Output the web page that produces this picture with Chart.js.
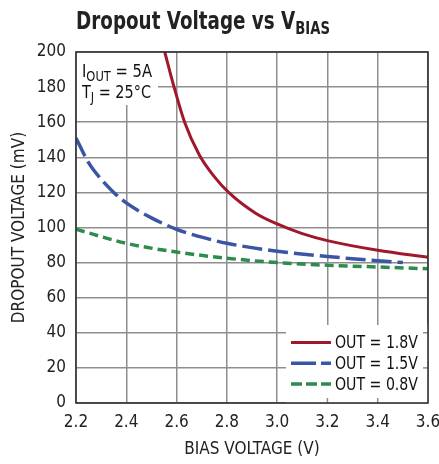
<!DOCTYPE html>
<html><head><meta charset="utf-8">
<script src="https://cdn.jsdelivr.net/npm/chart.js@4/dist/chart.umd.min.js"></script>
<style>html,body{margin:0;padding:0;background:#fff;}</style>
</head><body>
<canvas id="c" width="439" height="464"></canvas>
<script>
const FONT = "'DejaVu Sans Condensed','Liberation Sans Narrow',Roboto,sans-serif";

// ---- data ----
const xTickValues = [2.2, 2.4, 2.6, 2.8, 3.0, 3.2, 3.4, 3.6];
const yTickValues = [0, 20, 40, 60, 80, 100, 120, 140, 160, 180, 200];
const seriesLabels = ['OUT = 1.8V', 'OUT = 1.5V', 'OUT = 0.8V'];

const out18X = [2.553, 2.59, 2.632, 2.69, 2.75, 2.807, 2.916, 3.0, 3.1, 3.2, 3.4, 3.6];
const out18Y = [200, 180, 160, 141.5, 129, 120, 108, 102, 96.5, 92.5, 87, 83];

const out15X = [2.2, 2.25, 2.3, 2.35, 2.4, 2.5, 2.6, 2.7, 2.8, 3.0, 3.2, 3.4, 3.5];
const out15Y = [151, 137, 127.5, 120, 114, 105.5, 99, 94.5, 91, 86.5, 83.5, 81, 80];

const out08X = [2.2, 2.4, 2.6, 2.8, 3.0, 3.2, 3.4, 3.6];
const out08Y = [99, 91, 86, 82.5, 80, 78.5, 77.5, 76.5];

const pts = (xs, ys) => xs.map((x, i) => ({x, y: ys[i]}));

const COLORS = ['#a0182c', '#3a55a5', '#2e8b4e'];
const DASHES = [[], [20, 6], [9, 5]];
const LEGEND_DASHES = [[], [25, 5], [11, 4]];
const WIDTHS = [3, 3.5, 3.5];

// draw text with horizontal scale sx; returns advance width
function txt(ctx, s, x, y, font, sx) {
  ctx.save();
  ctx.font = font;
  const w = ctx.measureText(s).width * sx;
  ctx.translate(x, y);
  ctx.scale(sx, 1);
  ctx.fillText(s, 0, 0);
  ctx.restore();
  return w;
}
function runs(ctx, parts, x, y, targetW) {
  let nat = 0;
  parts.forEach(p => { ctx.font = p[1]; nat += ctx.measureText(p[0]).width; });
  const sx = targetW / nat;
  parts.forEach(p => { x += txt(ctx, p[0], x, y + p[2], p[1], sx); });
}

const overlay = {
  id: 'overlay',
  beforeDatasetsDraw(chart) {
    const {ctx, chartArea: a} = chart;
    ctx.save();
    ctx.fillStyle = '#fff';
    ctx.fillRect(a.left + 1, a.top + 1, 81, 52);
    ctx.fillStyle = '#111';
    ctx.textBaseline = 'alphabetic';
    ctx.textAlign = 'left';
    const big = '18px ' + FONT, small = '14px ' + FONT;
    runs(ctx, [['I', big, 0], ['OUT', small, 4], [' = 5A', big, 0]], a.left + 6, a.top + 25, 70);
    runs(ctx, [['T', big, 0], ['J', small, 4], [' = 25°C', big, 0]], a.left + 6, a.top + 46, 69);
    ctx.restore();
  },
  afterDatasetsDraw(chart) {
    const {ctx, chartArea: a} = chart;
    const xs = chart.scales.x, ys = chart.scales.y;
    ctx.save();
    // legend box
    const bx = a.right - 142, by = a.bottom - 78;
    ctx.fillStyle = '#fff';
    ctx.fillRect(bx, by, a.right - bx, a.bottom - by);
    // small inner ticks where grid is hidden
    ctx.strokeStyle = '#8e8e8e';
    ctx.lineWidth = 1.5;
    xTickValues.forEach(v => {
      const px = xs.getPixelForValue(v);
      if (px > bx && px < a.right - 2) {
        ctx.beginPath(); ctx.moveTo(px, a.bottom); ctx.lineTo(px, a.bottom - 5); ctx.stroke();
      }
    });
    yTickValues.forEach(v => {
      const py = ys.getPixelForValue(v);
      if (py > by && py < a.bottom - 2) {
        ctx.beginPath(); ctx.moveTo(a.right, py); ctx.lineTo(a.right - 5, py); ctx.stroke();
      }
    });
    chart.data.datasets.forEach((ds, i) => {
      const ly = by + 17.5 + i * 20.7;
      ctx.beginPath();
      ctx.strokeStyle = ds.borderColor;
      ctx.lineWidth = ds.borderWidth;
      ctx.setLineDash(LEGEND_DASHES[i]);
      ctx.moveTo(bx + 5, ly); ctx.lineTo(bx + 45, ly);
      ctx.stroke();
      ctx.setLineDash([]);
      ctx.fillStyle = '#111';
      ctx.textBaseline = 'middle';
      ctx.textAlign = 'left';
      runs(ctx, [[ds.label, '18px ' + FONT, 0]], bx + 49, ly + 1, 83);
    });
    // frame
    ctx.strokeStyle = '#333';
    ctx.lineWidth = 1.6;
    ctx.strokeRect(a.left, a.top, a.right - a.left, a.bottom - a.top);
    // title
    ctx.fillStyle = '#222';
    ctx.textBaseline = 'alphabetic';
    ctx.textAlign = 'left';
    runs(ctx, [['Dropout Voltage vs V', 'bold 25px ' + FONT, 0], ['BIAS', 'bold 18px ' + FONT, 5.5]], 76, 28.5, 254);
    ctx.restore();
  }
};

new Chart(document.getElementById('c'), {
  type: 'line',
  data: {
    datasets: [
      {label: seriesLabels[0], data: pts(out18X, out18Y)},
      {label: seriesLabels[1], data: pts(out15X, out15Y)},
      {label: seriesLabels[2], data: pts(out08X, out08Y)}
    ].map((d, i) => Object.assign(d, {
      borderColor: COLORS[i], backgroundColor: COLORS[i], borderWidth: WIDTHS[i],
      borderDash: DASHES[i], pointRadius: 0, fill: false,
      cubicInterpolationMode: 'monotone', borderCapStyle: 'butt'
    }))
  },
  options: {
    responsive: false,
    animation: false,
    layout: {padding: {left: 0, top: 52, right: 11, bottom: 0}},
    plugins: {legend: {display: false}, title: {display: false}, tooltip: {enabled: false}},
    scales: {
      x: {
        type: 'linear', min: 2.2, max: 3.6,
        afterBuildTicks: s => { s.ticks = xTickValues.map(v => ({value: v})); },
        afterFit: s => { s.height = 61; s.paddingLeft = 0; s.paddingRight = 0; },
        ticks: {color: '#222', font: {family: FONT, size: 17}, padding: 9,
                maxRotation: 0, autoSkip: false, callback: v => v.toFixed(1)},
        grid: {color: '#8e8e8e', lineWidth: 1.5, drawTicks: false},
        border: {display: false},
        title: {display: true, text: 'BIAS VOLTAGE (V)', color: '#222',
                font: {family: FONT, size: 17}, padding: {top: 0, bottom: 4}}
      },
      y: {
        type: 'linear', min: 0, max: 200,
        afterBuildTicks: s => { s.ticks = yTickValues.map(v => ({value: v})); },
        afterFit: s => { s.width = 76; s.paddingTop = 0; s.paddingBottom = 0; },
        ticks: {color: '#222', font: {family: FONT, size: 17}, padding: 10, autoSkip: false},
        grid: {color: '#8e8e8e', lineWidth: 1.5, drawTicks: false},
        border: {display: false},
        title: {display: true, text: 'DROPOUT VOLTAGE (mV)', color: '#222',
                font: {family: FONT, size: 17}, padding: {top: 9, bottom: 0}}
      }
    }
  },
  plugins: [overlay]
});
</script>
</body></html>
